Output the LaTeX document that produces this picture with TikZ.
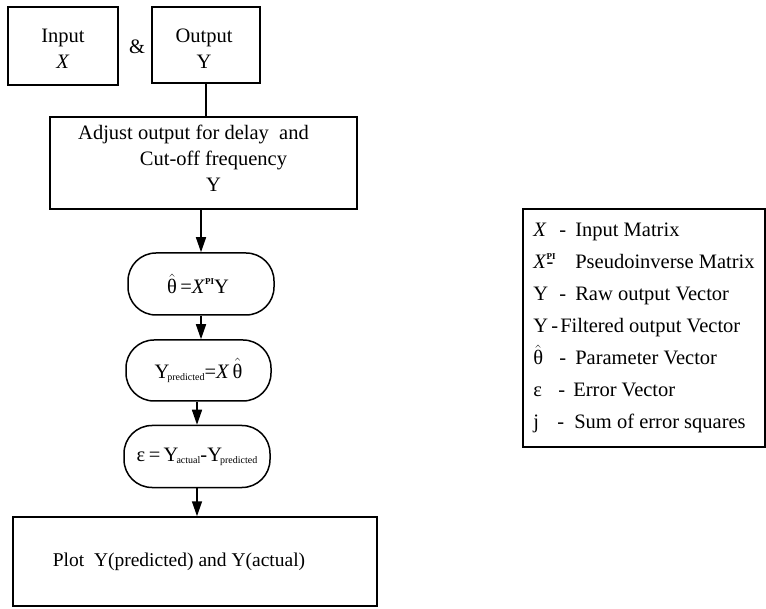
\documentclass[tikz,border=0pt]{standalone}
\usepackage{fontspec}
\setmainfont{Liberation Serif}
\usetikzlibrary{arrows.meta,calc}
\begin{document}
\begin{tikzpicture}[x=1pt,y=-1pt,
  box/.style={draw, line width=1.5pt, inner sep=0pt},
  pill/.style={draw, line width=1.5pt, rounded corners=28pt, inner sep=0pt},
  arr/.style={line width=1.5pt, -{Triangle[length=15pt,width=10pt]}},
  conn/.style={line width=1.5pt},
  txt/.style={font=\fontsize{20.5}{26}\selectfont, align=center}]
\newcommand{\tinysub}[1]{\kern-2pt\raisebox{-2pt}{\fontsize{10}{10}\selectfont #1}}
\newcommand{\thhat}{$\hat{\mbox{θ}}$}
\useasboundingbox (0,0) rectangle (766,609);

\node[box, minimum width=110, minimum height=78,
  label={[txt, yshift=-3pt]center:{Input\\\textit{X}}}] (inp) at (63,46) {};
\node[txt] (amp) at (137,47) {\&};
\node[box, minimum width=108, minimum height=76,
  label={[txt, yshift=-4pt, xshift=-2pt]center:{Output\\Y}}] (out) at (206,45) {};

\node[box, minimum width=307, minimum height=92,
  label={[txt, anchor=north, yshift=-5pt]north:{Adjust output for delay\ \ and\hspace*{20pt}\\\hspace*{20pt}Cut-off frequency\\\hspace*{20pt}Y}}] (adj) at (203.5,163) {};

\node[pill, txt, minimum width=146, minimum height=62] (theta) at (201,284) {\thhat\,=\textit{X}\raisebox{9pt}{\fontsize{9}{9}\selectfont\bfseries PI}Y\hspace*{6pt}};
\node[pill, txt, minimum width=145, minimum height=61] (ypred) at (198.5,370.5) {Y\tinysub{predicted}=\textit{X}\,\thhat};
\node[pill, txt, minimum width=146, minimum height=62] (eps) at (197,456.5) {ε\,=\,Y\tinysub{actual}-Y\tinysub{predicted}};

\node[box, txt, font=\fontsize{19.5}{26}\selectfont, minimum width=364, minimum height=89] (plot) at (195,561.5) {Plot\ \ Y(predicted) and Y(actual)\hspace*{32pt}};

\node[box, font=\fontsize{20.5}{26}\selectfont, align=left, inner xsep=9pt, minimum width=242, minimum height=238] (leg) at (644,328) {%
\makebox[26pt][l]{\textit{X}}\makebox[16pt][l]{-}Input Matrix\\[6pt]
\makebox[42pt][l]{\textit{X}\rlap{\raisebox{9pt}{\fontsize{9}{9}\selectfont\bfseries PI}}-}Pseudoinverse Matrix\\[6pt]
\makebox[26pt][l]{Y}\makebox[16pt][l]{-}Raw output Vector\\[6pt]
\makebox[18pt][l]{Y}\makebox[9pt][l]{-}Filtered output Vector\\[6pt]
\makebox[26pt][l]{\thhat}\makebox[16pt][l]{-}Parameter Vector\\[6pt]
\makebox[25pt][l]{ε}\makebox[15pt][l]{-}Error Vector\\[6pt]
\makebox[24pt][l]{j}\makebox[17pt][l]{-}Sum of error squares};

\draw[conn] (out.south) -- (out.south |- adj.north);
\draw[arr] (adj.south -| theta.north) -- (theta.north);
\draw[arr] (theta.south) -- (theta.south |- ypred.north);
\draw[arr] (ypred.south -| eps.north) -- (eps.north);
\draw[arr] (eps.south) -- (eps.south |- plot.north);
\end{tikzpicture}
\end{document}
